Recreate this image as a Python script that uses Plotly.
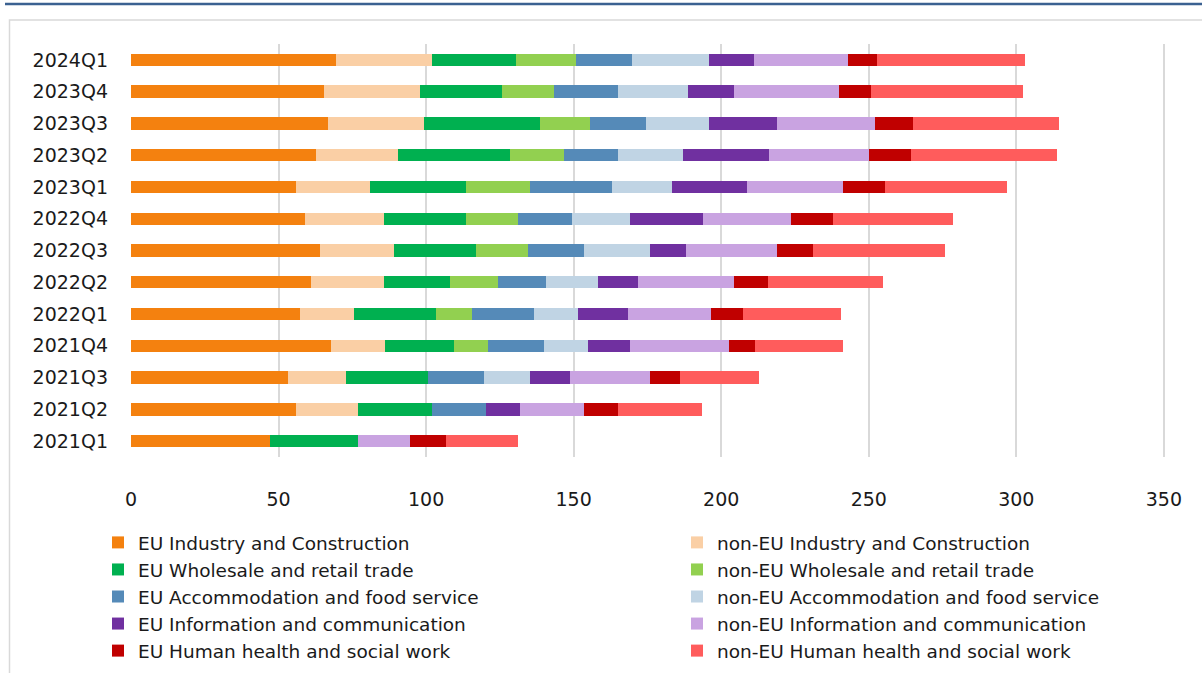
import plotly.graph_objects as go

# Quarters, bottom to top
quarters = ["2021Q1", "2021Q2", "2021Q3", "2021Q4", "2022Q1", "2022Q2", "2022Q3",
            "2022Q4", "2023Q1", "2023Q2", "2023Q3", "2023Q4", "2024Q1"]

eu_industry      = [47.0, 55.8, 53.1, 67.9, 57.1, 61.1, 63.9, 59.1, 55.8, 62.6, 66.6, 65.3, 69.4]
noneu_industry   = [0.0, 21.0, 19.6, 18.3, 18.3, 24.6, 25.1, 26.6, 25.1, 27.8, 32.6, 32.5, 32.5]
eu_wholesale     = [29.8, 25.2, 27.8, 23.1, 27.9, 22.3, 27.8, 27.7, 32.5, 38.0, 39.3, 27.8, 28.5]
noneu_wholesale  = [0.0, 0.0, 0.0, 11.6, 12.2, 16.3, 17.6, 17.7, 21.7, 18.3, 17.0, 17.6, 20.3]
eu_accommodation = [0.0, 18.2, 19.1, 19.0, 21.0, 16.3, 19.1, 18.3, 27.8, 18.2, 18.9, 21.7, 19.0]
noneu_accommodation = [0.0, 0.0, 15.5, 14.9, 15.0, 17.6, 22.3, 19.6, 20.3, 22.3, 21.6, 23.7, 26.3]
eu_information   = [0.0, 11.5, 13.6, 14.2, 16.9, 13.5, 12.2, 25.0, 25.6, 29.1, 23.0, 15.6, 15.0]
noneu_information = [17.7, 21.8, 27.1, 33.8, 28.3, 32.5, 31.0, 29.8, 32.5, 33.8, 33.1, 35.8, 31.8]
eu_health        = [12.1, 11.5, 10.1, 8.8, 10.8, 11.5, 12.2, 14.2, 14.3, 14.3, 13.0, 10.8, 10.0]
noneu_health     = [24.5, 28.4, 27.0, 29.7, 33.2, 39.1, 44.6, 40.6, 41.3, 49.3, 49.2, 51.4, 50.1]

x_ticks = [0, 50, 100, 150, 200, 250, 300, 350]

# (name, values, colour, legend column)
series = [
    ("EU Industry and Construction", eu_industry, "#f4810f", "legend"),
    ("non-EU Industry and Construction", noneu_industry, "#facfa5", "legend2"),
    ("EU Wholesale and retail trade", eu_wholesale, "#00b050", "legend"),
    ("non-EU Wholesale and retail trade", noneu_wholesale, "#92d050", "legend2"),
    ("EU Accommodation and food service", eu_accommodation, "#558ab8", "legend"),
    ("non-EU Accommodation and food service", noneu_accommodation, "#c0d4e4", "legend2"),
    ("EU Information and communication", eu_information, "#7030a0", "legend"),
    ("non-EU Information and communication", noneu_information, "#c9a3e1", "legend2"),
    ("EU Human health and social work", eu_health, "#c00000", "legend"),
    ("non-EU Human health and social work", noneu_health, "#ff5c5c", "legend2"),
]

W, H = 1202, 673
L, R, T, B = 131, 3, 44, 206
PW, PH = W - L - R, H - T - B
UNIT = 2.951                      # pixels per unit on the value axis
X_MAX = PW / UNIT                 # axis runs a little past 350, blank on the right
FONT = "DejaVu Sans, Verdana, sans-serif"
FS = 19
LEG_FS = 18.5


def px(x):
    return (x - L) / PW


def py(y):
    return (H - B - y) / PH


fig = go.Figure()
for name, vals, color, leg in series:
    fig.add_trace(go.Bar(
        y=quarters, x=vals, name=name, orientation="h", legend=leg,
        marker=dict(color=color, line=dict(width=0)),
    ))

legend_style = dict(
    orientation="v", yanchor="top", xanchor="left", traceorder="normal",
    font=dict(size=LEG_FS, family=FONT, color="#1a1a1a"),
    bgcolor="rgba(0,0,0,0)", itemclick=False, borderwidth=0,
)

fig.update_layout(
    width=W, height=H,
    margin=dict(l=L, r=R, t=T, b=B, pad=0),
    barmode="stack", bargap=0.61,
    paper_bgcolor="white", plot_bgcolor="white",
    font=dict(family=FONT, color="#1a1a1a", size=FS),
    xaxis=dict(
        range=[0, X_MAX], tickvals=x_ticks,
        showgrid=True, gridcolor="#d9d9d9", gridwidth=2, zeroline=False,
        showline=False, ticks="", ticklabelstandoff=29,
        tickfont=dict(size=FS, family=FONT, color="#1a1a1a"),
    ),
    yaxis=dict(
        categoryorder="array", categoryarray=quarters,
        showgrid=False, zeroline=False, showline=False, ticks="",
        ticklabelstandoff=22,
        tickfont=dict(size=FS, family=FONT, color="#1a1a1a"),
    ),
    legend=dict(x=px(98), y=py(535.5), **legend_style),
    legend2=dict(x=px(677), y=py(535.5), **legend_style),
    shapes=[
        dict(type="rect", xref="paper", yref="paper",
             x0=px(9.5), x1=px(1215), y0=py(19.5), y1=py(690),
             line=dict(color="#d9d9d9", width=1.5), fillcolor="rgba(0,0,0,0)",
             layer="below"),
        dict(type="line", xref="paper", yref="paper",
             x0=px(5), x1=px(1210), y0=py(3), y1=py(3),
             line=dict(color="#3b6191", width=2.5)),
    ],
)

fig.write_html("out.html")
